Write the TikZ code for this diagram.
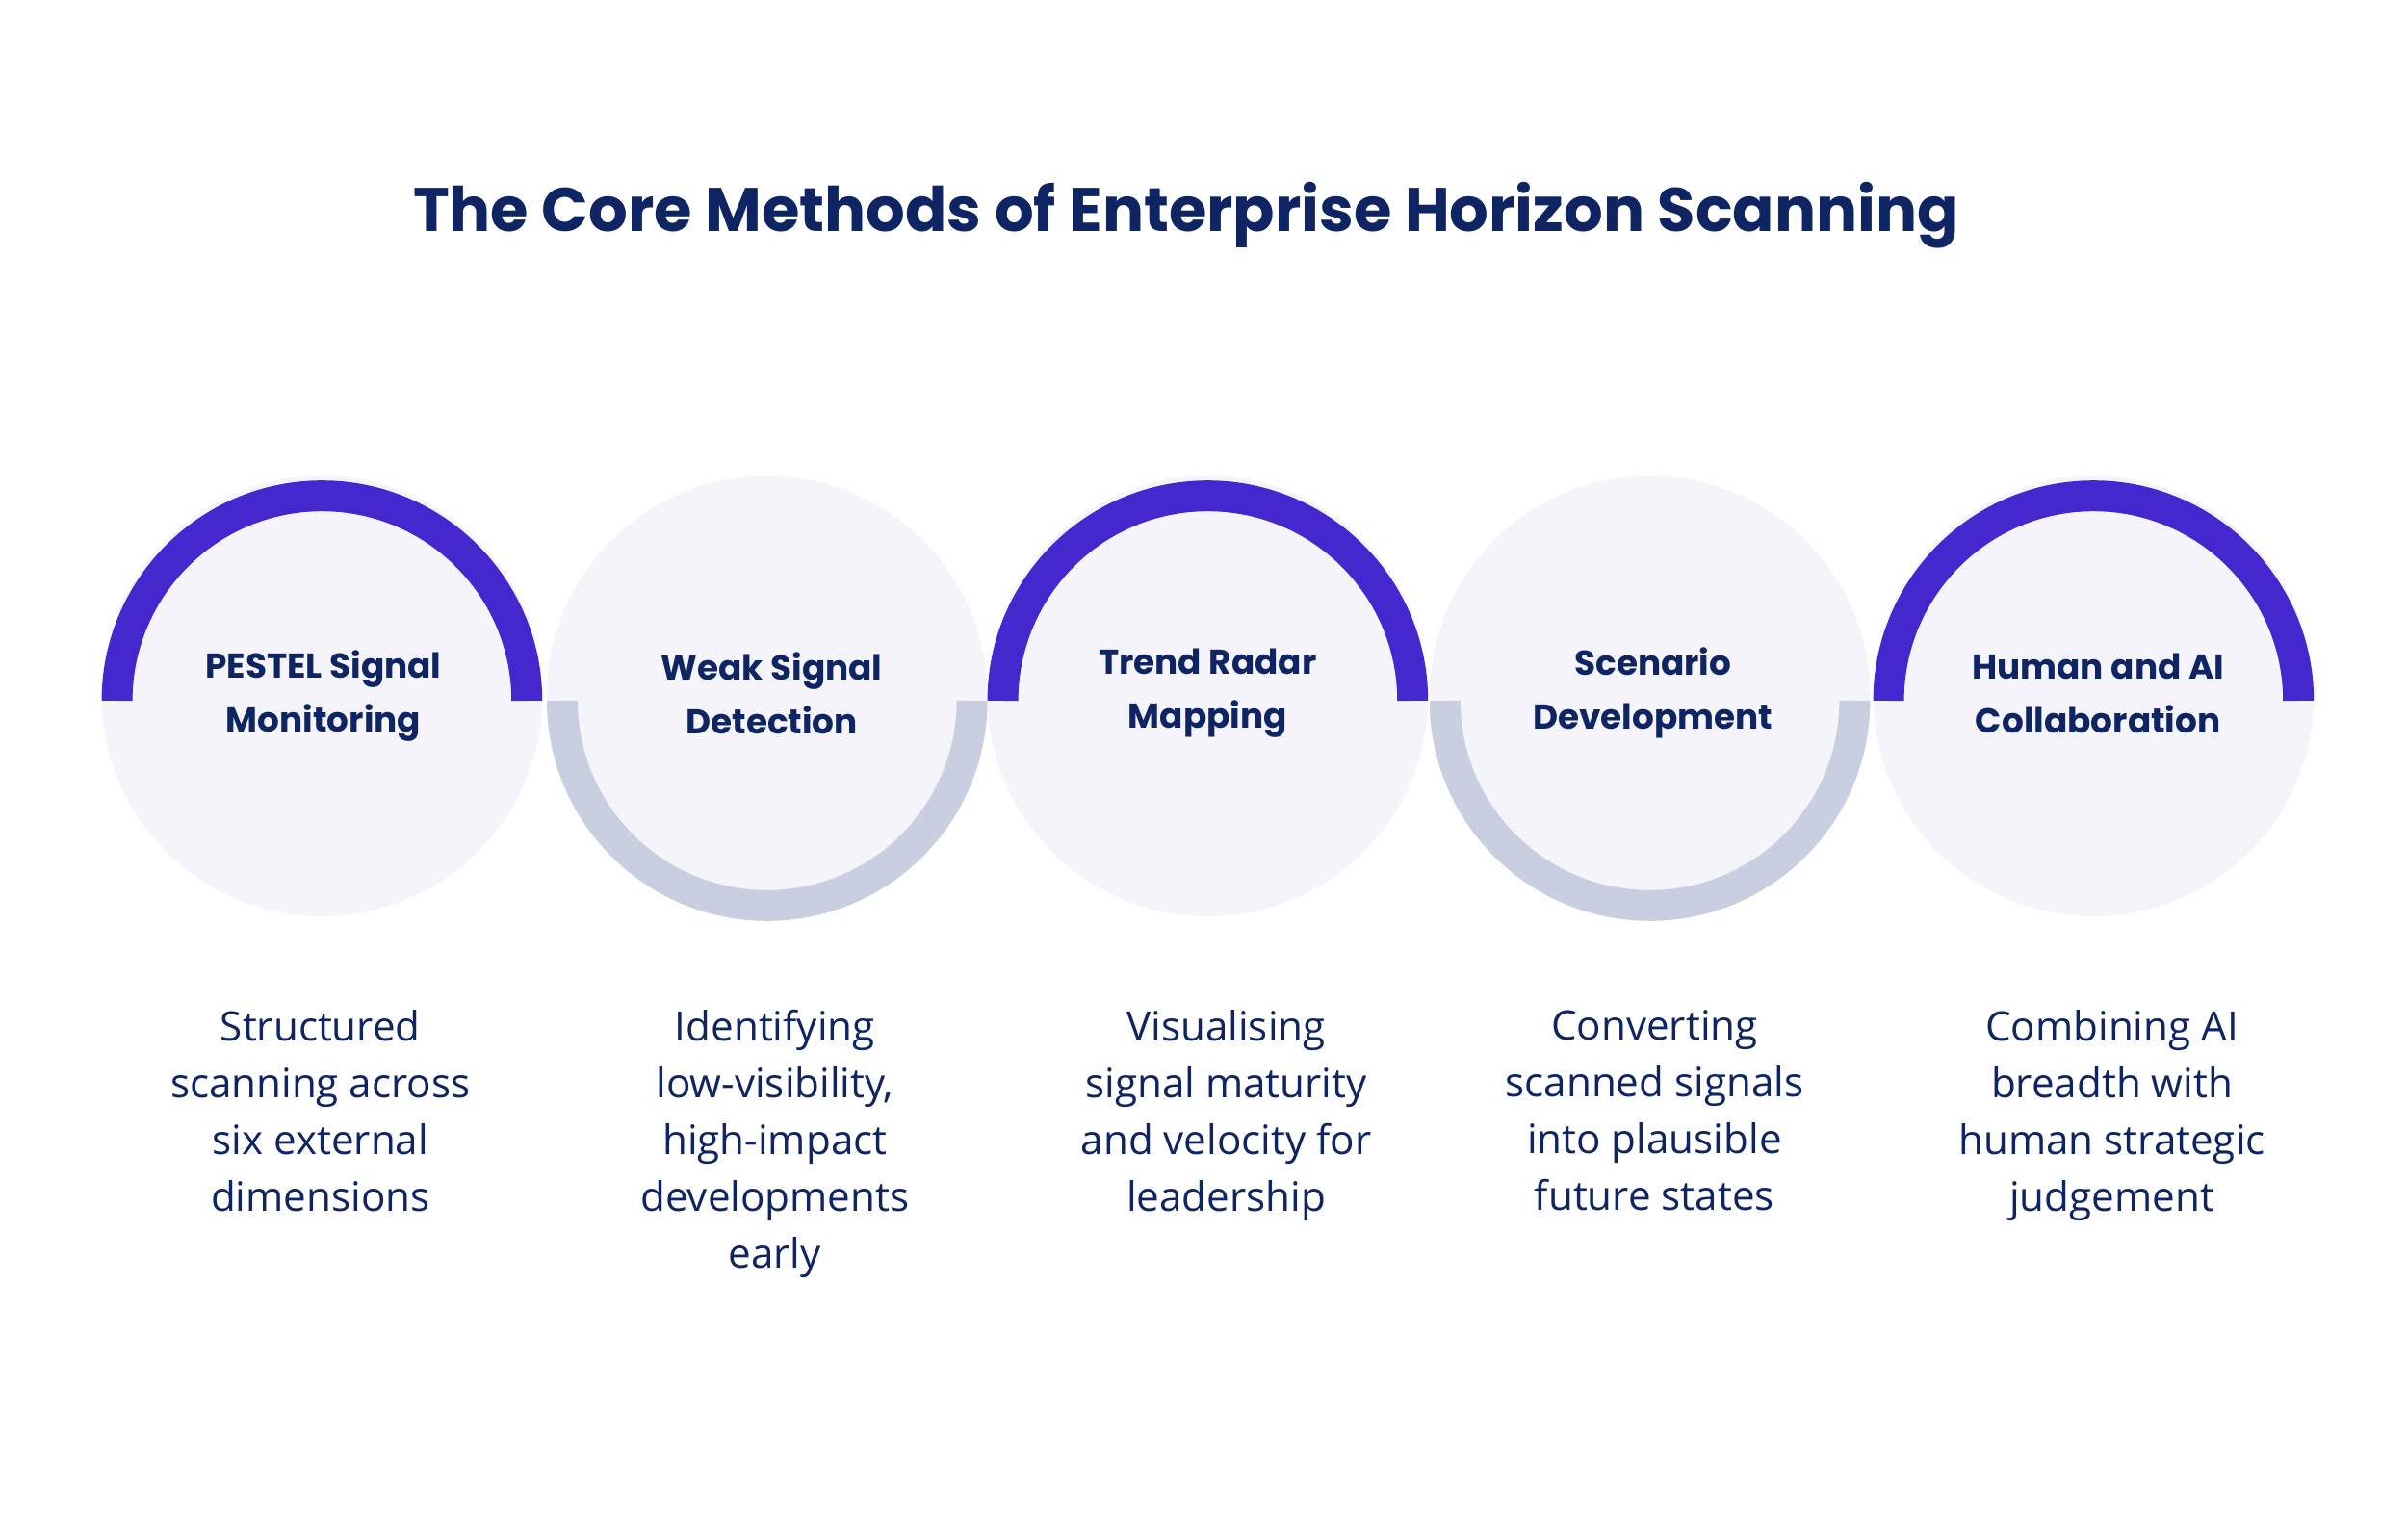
\documentclass[tikz,border=0pt]{standalone}
\usepackage{fontspec}
\setmainfont{Open Sans}
\newfontfamily\headfont{Poppins}
\usetikzlibrary{positioning}
\definecolor{ringblue}{HTML}{4527CF}
\definecolor{ringgrey}{HTML}{C9CEE1}
\definecolor{discfill}{HTML}{F4F4FA}
\definecolor{navytext}{HTML}{0F2563}
\tikzset{
  methodname/.style={text=navytext, align=center, font=\headfont\fontsize{10.2}{16}\selectfont\bfseries},
  methoddesc/.style={text=navytext, align=center, anchor=north, font=\fontsize{12}{16.8}\selectfont},
}
\begin{document}
\begin{tikzpicture}[x=0.016cm,y=-0.016cm]
  \useasboundingbox[fill=white] (0,0) rectangle (1562.5,1000);
  \node[text=navytext, font=\headfont\fontsize{18.2}{22}\selectfont\bfseries] (title) at (770,140) {The Core Methods of Enterprise Horizon Scanning};

  % discs and rings
  \foreach \cx/\up in {209/1,498/0,784/1,1071/0,1359/1} {
    \fill[discfill] (\cx,452) circle (143);
    \ifnum\up=1
      \draw[ringblue, line width=0.32cm] (\cx-133,455) arc[start angle=180, end angle=0, radius=133*0.016cm];
    \else
      \draw[ringgrey, line width=0.32cm] (\cx-133,455) arc[start angle=180, end angle=360, radius=133*0.016cm];
    \fi
  }

  \node[methodname] (name1) at (210,452) {PESTEL Signal\\Monitoring};
  \node[methodname] (name2) at (501,450) {Weak Signal\\Detection};
  \node[methodname] (name3) at (784,450) {Trend Radar\\Mapping};
  \node[methodname] (name4) at (1073,450) {Scenario\\Development};
  \node[methodname] (name5) at (1362,450) {Human and AI\\Collaboration};

  \node[methoddesc] (desc1) at (208,648) {Structured\\scanning across\\six external\\dimensions};
  \node[methoddesc] (desc2) at (503,648) {Identifying\\low-visibility,\\high-impact\\developments\\early};
  \node[methoddesc] (desc3) at (796,648) {Visualising\\signal maturity\\and velocity for\\leadership};
  \node[methoddesc] (desc4) at (1074,648) {Converting\\scanned signals\\into plausible\\future states};
  \node[methoddesc] (desc5) at (1371,648) {Combining AI\\breadth with\\human strategic\\judgement};
\end{tikzpicture}
\end{document}
